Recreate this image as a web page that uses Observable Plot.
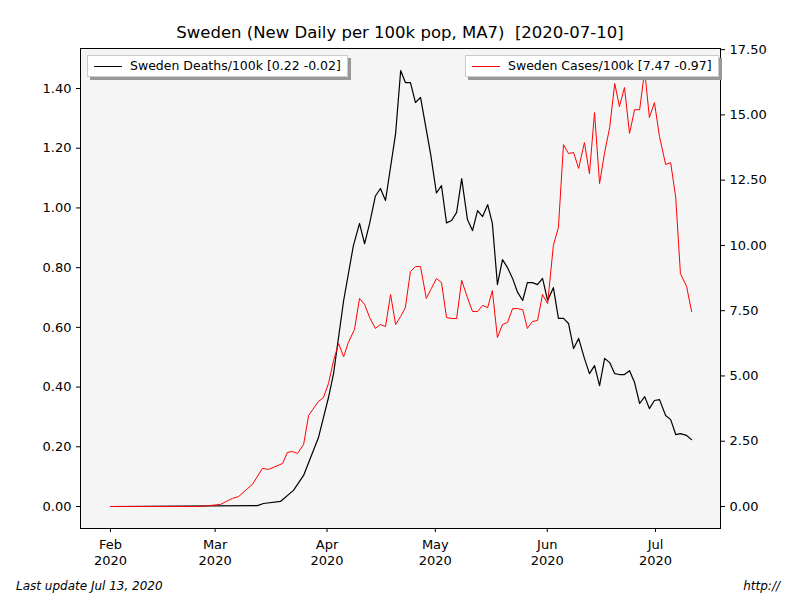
<!DOCTYPE html>
<html><head><meta charset="utf-8">
<script src="https://cdn.jsdelivr.net/npm/d3@7"></script>
<script src="https://cdn.jsdelivr.net/npm/@observablehq/plot@0.6"></script>
<style>
body{margin:0;font-family:"DejaVu Sans",sans-serif;background:#fff;}
#wrap{position:relative;width:800px;height:600px;}
.t{position:absolute;white-space:nowrap;}
.leg{position:absolute;background:#fff;border:1px solid #ccc;box-shadow:3px 3px 0 #999;font-size:12.5px;height:20px;line-height:20px;padding:0 6px;}
.leg span{display:inline-block;width:28px;height:0;border-top:1px solid;vertical-align:middle;margin-right:8px;}
</style></head><body>
<div id="wrap"></div>
<script>
// days since 2020-02-01
const deathDays=[0,40.7,42.4,47.1,50.7,53.5,57.6,60.4,61.8,64.6,67.3,69.0,70.4,71.8,73.4,74.8,76.2,79.0,80.4,81.7,83.1,84.5,85.9,88.7,90.3,91.7,93.1,94.5,95.9,97.3,98.9,100.3,101.7,103.1,104.5,105.8,107.2,108.6,110.0,111.4,112.8,114.2,115.5,116.9,118.3,119.7,121.1,122.7,124.1,125.5,126.9,128.3,129.7,131.3,132.7,134.1,135.5,136.9,138.3,139.7,141.0,142.4,143.8,145.2,146.6,148.0,149.3,150.7,152.1,153.8,155.2,156.6,157.9,159.6,161.0];
const deaths=[0,0.003,0.01,0.017,0.054,0.104,0.23,0.365,0.445,0.69,0.874,0.948,0.88,0.948,1.04,1.065,1.025,1.25,1.46,1.42,1.42,1.353,1.37,1.18,1.05,1.075,0.95,0.958,0.985,1.098,0.961,0.924,0.991,0.971,1.011,0.948,0.743,0.827,0.80,0.764,0.717,0.69,0.75,0.75,0.743,0.764,0.69,0.733,0.63,0.63,0.613,0.529,0.563,0.496,0.445,0.472,0.405,0.496,0.482,0.445,0.442,0.442,0.455,0.415,0.345,0.368,0.328,0.355,0.358,0.305,0.291,0.241,0.244,0.238,0.224];
const caseDays=[0,24.9,30.5,33.8,35.5,38.0,39.3,42.1,43.8,47.7,49.0,50.4,51.8,53.5,54.9,57.6,59.0,60.4,61.8,63.2,64.6,65.9,67.6,69.0,70.4,71.8,73.4,74.8,76.2,77.6,79.0,80.4,81.7,83.1,84.5,85.9,87.5,88.9,90.3,91.7,93.1,94.5,95.9,97.3,98.9,100.3,101.7,103.1,104.5,105.8,107.2,108.6,110.0,111.4,112.8,114.2,115.5,116.9,118.3,119.7,121.1,122.7,124.1,125.5,126.9,128.3,129.7,131.3,132.7,134.1,135.5,136.9,138.3,139.7,141.0,142.4,143.8,145.2,146.6,148.0,149.3,150.7,152.1,153.8,155.2,156.6,157.9,159.6,161.0];
const cases=[0,0,0.08,0.31,0.38,0.69,0.84,1.46,1.42,1.65,2.07,2.11,2.03,2.37,3.49,4.02,4.17,4.71,5.59,6.24,5.74,6.28,6.78,7.97,7.74,7.24,6.82,6.97,6.89,8.12,6.97,7.28,7.62,9.00,9.19,9.19,7.97,8.35,8.73,8.58,7.24,7.20,7.20,8.66,8.00,7.47,7.47,7.70,7.62,8.27,6.47,6.97,7.05,7.58,7.58,7.54,6.82,7.09,7.12,8.12,7.77,10.00,10.69,13.86,13.52,13.56,12.95,13.94,12.75,15.09,12.37,13.56,14.52,16.20,15.32,16.05,14.29,15.20,15.20,16.70,14.90,15.47,14.17,13.10,13.17,11.83,8.92,8.43,7.47];
const leftTicks=[0,0.2,0.4,0.6,0.8,1.0,1.2,1.4];
const rightTicks=[0,2.5,5,7.5,10,12.5,15,17.5];
const monthTicks=["2020-02-01","2020-03-01","2020-04-01","2020-05-01","2020-06-01","2020-07-01"];

const base=Date.UTC(2020,1,1);
const toDate=d=>new Date(base+d*864e5);
const k=0.08744; // deaths units per case unit
const dD=deathDays.map((d,i)=>({t:toDate(d),v:deaths[i]}));
const dC=caseDays.map((d,i)=>({t:toDate(d),v:cases[i]*k}));
const fmt=d3.utcFormat("%b");

const chart=Plot.plot({
  width:800,height:600,marginTop:48,marginBottom:72,marginLeft:80,marginRight:80,
  style:{fontFamily:"DejaVu Sans",fontSize:"13px",background:"transparent"},
  x:{type:"utc",domain:[toDate(-8.3),toDate(169)]},
  y:{domain:[-0.0737,1.534]},
  marks:[
    Plot.frame({fill:"#f5f5f5"}),
    Plot.frame({stroke:"#000"}),
    Plot.axisX({ticks:monthTicks.map(s=>new Date(s)),tickFormat:d=>fmt(d)+"\n2020",label:null,tickSize:4,fontSize:13,lineHeight:1.25}),
    Plot.axisY({ticks:leftTicks,tickFormat:d=>d.toFixed(2),label:null,tickSize:4,fontSize:13}),
    Plot.axisY({anchor:"right",ticks:rightTicks.map(v=>v*k),tickFormat:d=>(d/k).toFixed(2),label:null,tickSize:4,fontSize:13}),
    Plot.line(dD,{x:"t",y:"v",stroke:"#000",strokeWidth:1.2}),
    Plot.line(dC,{x:"t",y:"v",stroke:"#ff0000",strokeWidth:1})
  ]
});
const w=document.getElementById("wrap");
w.appendChild(chart);
w.insertAdjacentHTML("beforeend",`
<div class="t" style="left:0;width:800px;text-align:center;top:23px;font-size:16.5px">Sweden (New Daily per 100k pop, MA7)&nbsp; [2020-07-10]</div>
<div class="leg" style="left:87px;top:55px"><span style="border-color:#000"></span>Sweden Deaths/100k [0.22 -0.02]</div>
<div class="leg" style="left:465px;top:55px"><span style="border-color:#f00"></span>Sweden Cases/100k [7.47 -0.97]</div>
<div class="t" style="left:16px;top:579px;font-size:12px;font-style:italic">Last update Jul 13, 2020</div>
<div class="t" style="right:20px;top:579px;font-size:12px;font-style:italic">http://</div>
`);
</script></body></html>
